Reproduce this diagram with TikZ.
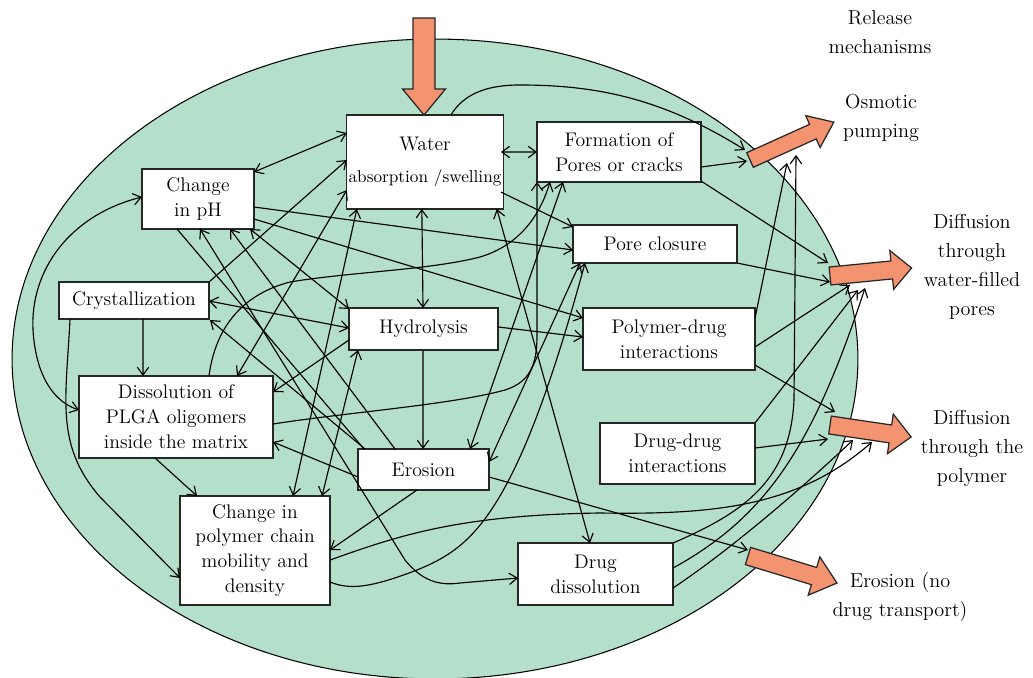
\documentclass[tikz,border=0pt]{standalone}
\usetikzlibrary{arrows.meta,calc}
\definecolor{gel}{RGB}{180,223,203}
\definecolor{rel}{RGB}{244,147,111}
\newcommand\RelArrow[7]{\begin{scope}[shift={(#1,#2)},rotate=#3]
\filldraw[relarrow] (0,-#5)--({#4-#7},-#5)--({#4-#7},-#6)--(#4,0)--({#4-#7},#6)--({#4-#7},#5)--(0,#5)--cycle;
\end{scope}}
\begin{document}
\begin{tikzpicture}[x=0.02cm,y=-0.02cm,
  box/.style={draw=black!85,fill=white,line width=0.75pt,align=center,inner sep=1pt,outer sep=0pt,font=\fontsize{11.2}{14.2}\selectfont},
  con/.style={line width=0.65pt},
  >={Straight Barb[length=4.5pt,width=6.5pt]},
  relarrow/.style={draw=black!85,fill=rel,line width=0.7pt,line join=miter},
  lab/.style={align=center,font=\fontsize{11.5}{16.5}\selectfont}]
\useasboundingbox (0,0) rectangle (1033,678);
\filldraw[fill=gel,draw=black,line width=0.6pt] (435,359) ellipse [x radius=8.46cm, y radius=6.4cm];

% release arrows
\RelArrow{424}{18}{-90}{97}{11}{21.5}{26}
\RelArrow{750}{160}{24.3}{92}{8}{17.5}{23}
\RelArrow{830}{276}{5.6}{82}{9}{19.5}{20}
\RelArrow{830}{425}{-8.4}{82}{9}{20}{21}
\RelArrow{748}{556}{-16.9}{93}{9}{20}{24}
\coordinate (osT) at (750,160);
\coordinate (dwT) at (830,276);
\coordinate (dpT) at (830,425);
\coordinate (erT) at (748,556);

% labels
\node[lab] (tRel) at (880,32) {Release\\mechanisms};
\node[lab] (tOsm) at (881,118) {Osmotic\\pumping};
\node[lab] (tDw) at (972,267) {Diffusion\\through\\water-filled\\pores};
\node[lab] (tDp) at (972,448) {Diffusion\\through the\\polymer};
\node[lab] (tEr) at (900,597) {Erosion (no\\drug transport)};

% boxes
\node[box,minimum width=3.08cm,minimum height=1.88cm] (water) at (425,162) {Water\\[4.5pt]{\fontsize{9.8}{14.2}\selectfont absorption /swelling}};
\node[box,minimum width=2.24cm,minimum height=1.2cm] (ph) at (198,199) {Change\\in pH};
\node[box,minimum width=3.0cm,minimum height=0.74cm] (cryst) at (134,300.5) {Crystallization};
\node[box,minimum width=2.98cm,minimum height=0.84cm] (hydro) at (423.5,329) {Hydrolysis};
\node[box,minimum width=3.28cm,minimum height=1.2cm] (form) at (619,152) {Formation of\\Pores or cracks};
\node[box,minimum width=3.28cm,minimum height=0.76cm] (pclose) at (655,244) {Pore closure};
\node[box,minimum width=3.44cm,minimum height=1.24cm] (pdrug) at (669,339) {Polymer-drug\\interactions};
\node[box,minimum width=3.1cm,minimum height=1.22cm] (ddrug) at (677.5,453.5) {Drug-drug\\interactions};
\node[box,minimum width=3.1cm,minimum height=1.24cm] (ddiss) at (595.5,574) {Drug\\dissolution};
\node[box,minimum width=3.88cm,minimum height=1.64cm] (dplga) at (176,417) {Dissolution of\\PLGA oligomers\\inside the matrix};
\node[box,minimum width=2.62cm,minimum height=0.82cm] (eros) at (423.5,469.5) {Erosion};
\node[box,minimum width=3.0cm,minimum height=2.18cm] (chain) at (255,550.5) {Change in\\polymer chain\\mobility and\\density};

% connectors
\begin{scope}[con]
\draw[<->] ($(ph.north west)+(112,3)$) -- ($(water.north west)+(0,18)$);
\draw[->] ($(cryst.north west)+(150,0)$) -- ($(water.north west)+(0,45)$);
\draw[<->] ($(dplga.north west)+(158,0)$) -- ($(water.north west)+(0,75)$);
\draw[<->] ($(chain.north west)+(113,0)$) -- ($(water.north west)+(10,94)$);
\draw[<->] ($(chain.north west)+(142,0)$) -- ($(hydro.north west)+(9,42)$);
\draw[<->] ($(water.north west)+(75,94)$) -- ($(hydro.north west)+(74,0)$);
\draw[->] ($(hydro.north west)+(74,42)$) -- ($(eros.north west)+(65,0)$);
\draw[<->] ($(water.north west)+(154,37)$) -- ($(form.north west)+(0,30)$);
\draw[->] ($(water.north west)+(104,0)$) .. controls (465,92) and (490,85) .. (520,85) .. controls (600,85) and (665,100) .. ($(osT)+(-5,-10)$);
\draw[->] ($(form.north west)+(164,45)$) -- ($(osT)+(-3,1)$);
\draw[->] ($(form.north west)+(164,59)$) -- ($(dwT)+(-2,-13)$);
\draw[->] ($(pclose.north west)+(164,38)$) -- ($(dwT)+(0,6)$);
\draw[->] ($(water.north west)+(154,77)$) -- ($(pclose.north west)+(0,2)$);
\draw[->] ($(ph.north west)+(112,38)$) -- ($(pclose.north west)+(0,25)$);
\draw[->] ($(ph.north west)+(112,50)$) -- ($(pdrug.north west)+(0,10)$);
\draw[->] ($(hydro.north west)+(149,19)$) -- ($(pdrug.north west)+(0,29)$);
\draw[<->] ($(cryst.north west)+(150,19)$) -- ($(hydro.north west)+(0,20)$);
\draw[<->] ($(ph.north west)+(108,60)$) -- ($(hydro.north west)+(0,1)$);
\draw[->] ($(cryst.north west)+(84,37)$) -- ($(dplga.north west)+(64,0)$);
\draw[->] ($(cryst.north west)+(11,37)$) .. controls (66,400) and (55,445) .. (100,497) -- ($(chain.north west)+(0,82)$);
\draw[<->] ($(ph.north west)+(0,28)$) .. controls (70,215) and (30,270) .. (33,330) .. controls (36,378) and (55,402) .. ($(dplga.north west)+(0,34)$);
\draw[->] ($(dplga.north west)+(76,82)$) -- ($(chain.north west)+(17,0)$);
\draw[->] ($(dplga.north west)+(130,0)$) .. controls (215,330) and (240,295) .. (290,282) .. controls (350,272) and (430,270) .. (480,257) .. controls (520,245) and (540,215) .. ($(form.north west)+(13,60)$);
\draw[->] ($(dplga.north west)+(194,48)$) .. controls (350,412) and (450,405) .. (505,390) .. controls (530,382) and (537,365) .. (537,335) -- ($(form.north west)+(0,60)$);
\draw[<->] ($(eros.north west)+(112,0)$) -- ($(form.north west)+(26,60)$);
\draw[<->] ($(eros.north west)+(131,13)$) -- ($(pclose.north west)+(7,38)$);
\draw[<->] ($(water.north west)+(150,94)$) -- ($(ddiss.north west)+(72,0)$);
\draw[->] ($(hydro.north west)+(0,32)$) -- ($(dplga.north west)+(194,16)$);
\draw[->] ($(eros.north west)+(0,28)$) -- ($(dplga.north west)+(194,66)$);
\draw[->] ($(eros.north west)+(59,41)$) -- ($(chain.north west)+(150,54)$);
\draw[->] ($(eros.north west)+(131,28)$) -- ($(erT)+(0,-6)$);
\draw[<->] ($(ph.north west)+(58,60)$) -- (405,560) .. controls (425,585) and (445,585) .. (460,583) -- ($(ddiss.north west)+(0,35)$);
\draw ($(ph.north west)+(35,60)$) -- ($(eros.north west)+(6,0)$);
\draw[->] ($(chain.north west)+(150,64)$) .. controls (400,535) and (460,515) .. (600,513) .. controls (720,515) and (800,505) .. ($(dpT)+(42,17)$);
\draw[->] ($(chain.north west)+(150,86)$) .. controls (350,590) and (370,588) .. (417,570) .. controls (470,548) and (515,520) .. ($(pclose.north west)+(12,38)$);
\draw[->] ($(pdrug.north west)+(172,10)$) -- ($(osT)+(37,3)$);
\draw[->] ($(ddiss.north west)+(155,0)$) .. controls (745,512) and (790,480) .. (794,400) -- ($(osT)+(46,-5)$);
\draw[->] ($(pdrug.north west)+(172,39)$) -- ($(dwT)+(20,9)$);
\draw[->] ($(pdrug.north west)+(172,57)$) -- ($(dpT)+(5,-13)$);
\draw[->] ($(ddrug.north west)+(155,0)$) -- ($(dwT)+(28,14)$);
\draw[->] ($(ddrug.north west)+(155,25)$) -- ($(dpT)+(-2,14)$);
\draw[->] ($(ddiss.north west)+(155,25)$) .. controls (770,515) and (815,440) .. ($(dwT)+(35,12)$);
\draw[->] ($(ddiss.north west)+(155,45)$) .. controls (730,550) and (800,490) .. ($(dpT)+(23,15)$);
\draw[->] ($(eros.north west)+(7,0)$) -- ($(cryst.north west)+(151,38)$);
\draw[->] ($(eros.north west)+(37,0)$) -- ($(ph.north west)+(88,60)$);
\end{scope}
\end{tikzpicture}
\end{document}
